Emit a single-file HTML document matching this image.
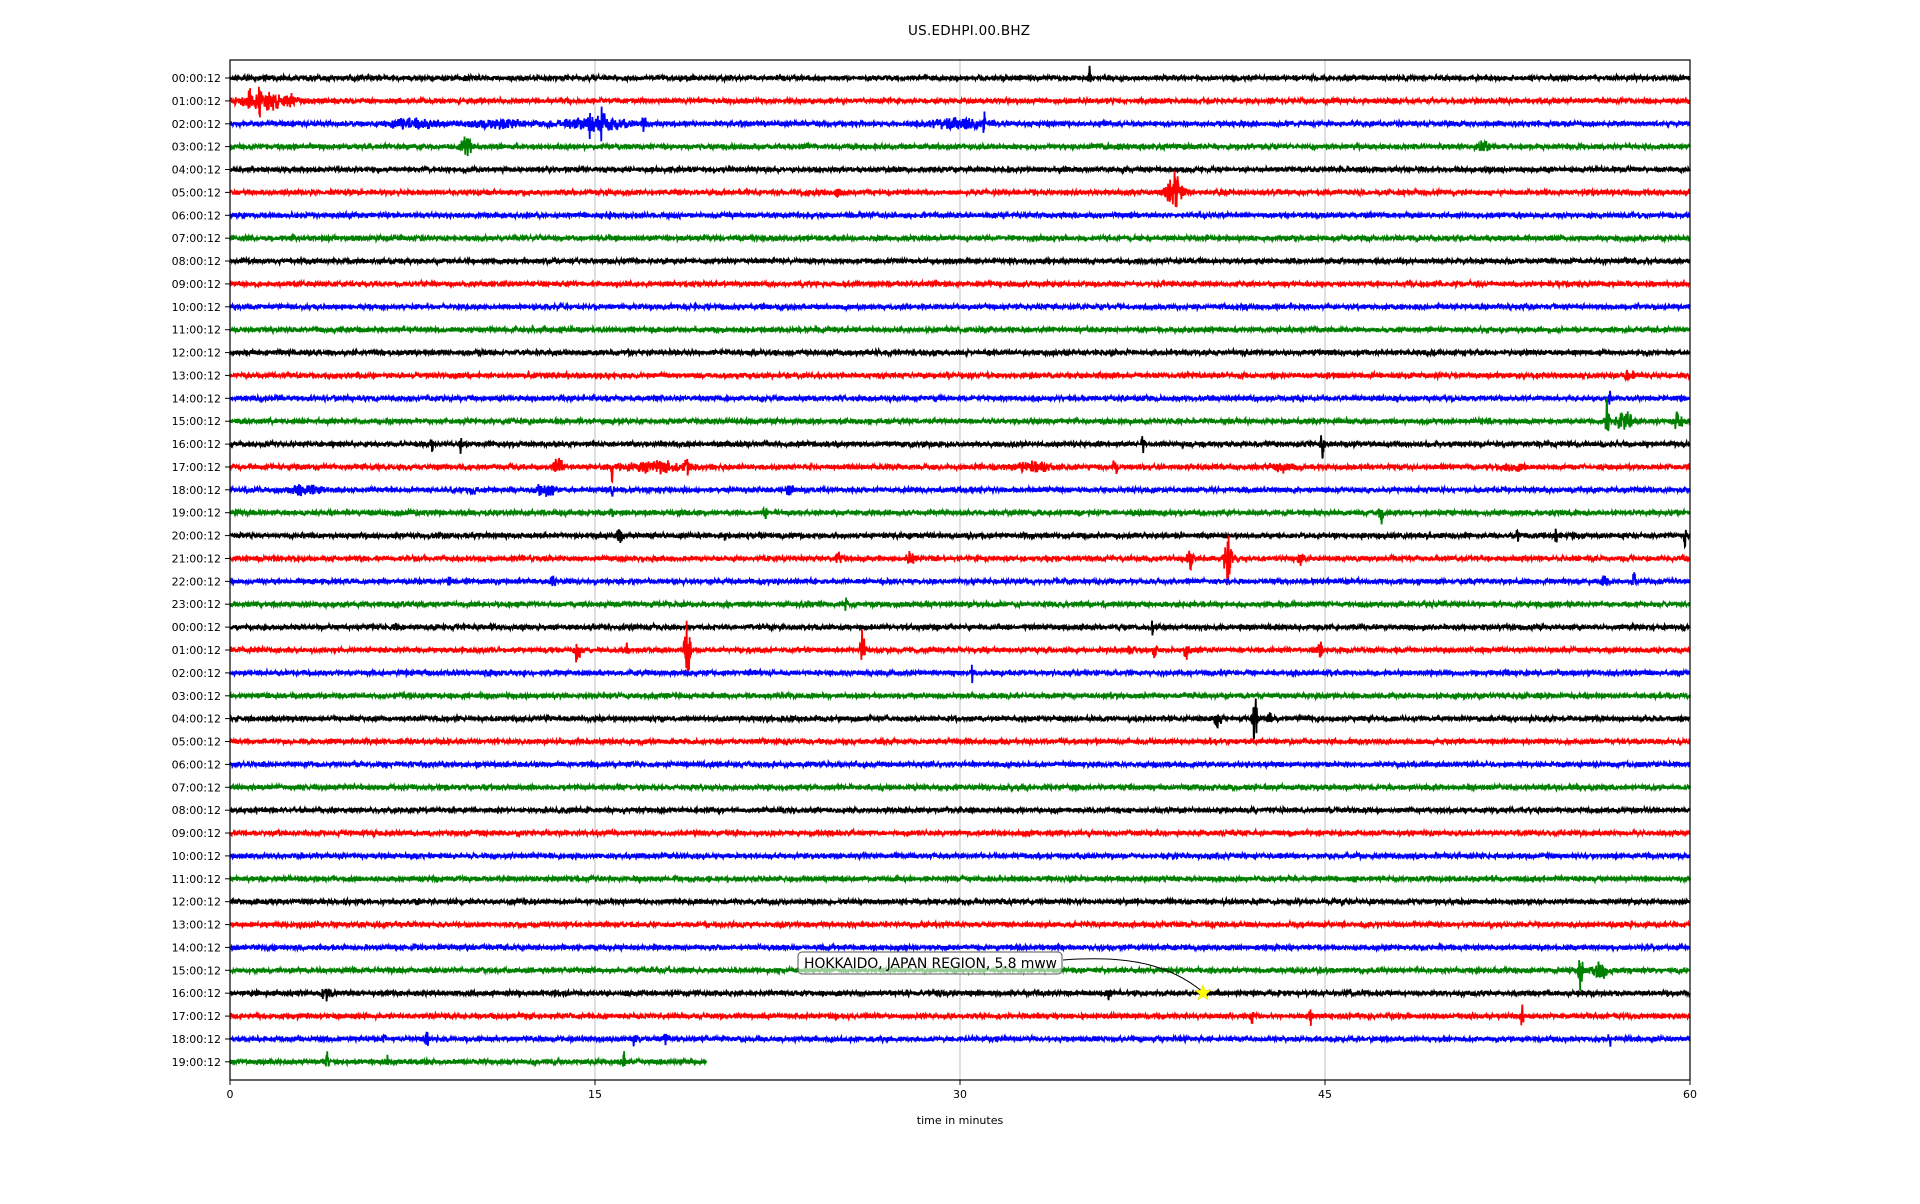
<!DOCTYPE html>
<html><head><meta charset="utf-8"><style>
body{margin:0;background:#fff;width:1920px;height:1200px;overflow:hidden;font-family:"DejaVu Sans","Liberation Sans",sans-serif}
</style></head><body>
<svg id="s" width="1920" height="1200" xmlns="http://www.w3.org/2000/svg" font-family="DejaVu Sans, Liberation Sans, sans-serif">
<rect width="1920" height="1200" fill="#fff"/>
<text x="969" y="35" font-size="13.5" text-anchor="middle" textLength="122">US.EDHPI.00.BHZ</text>
<g stroke="#b0b0b0" stroke-width="0.8">
<line x1="595" y1="60" x2="595" y2="1080"/><line x1="960" y1="60" x2="960" y2="1080"/><line x1="1325" y1="60" x2="1325" y2="1080"/>
</g>
<g id="tr"></g>
<rect x="230" y="60" width="1460" height="1020" fill="none" stroke="#000" stroke-width="1.2"/>
<g id="lab" font-size="11" text-anchor="end"></g>
<g font-size="11" text-anchor="middle">
<line x1="230" y1="1080" x2="230" y2="1085" stroke="#000"/><text x="230" y="1098">0</text>
<line x1="595" y1="1080" x2="595" y2="1085" stroke="#000"/><text x="595" y="1098">15</text>
<line x1="960" y1="1080" x2="960" y2="1085" stroke="#000"/><text x="960" y="1098">30</text>
<line x1="1325" y1="1080" x2="1325" y2="1085" stroke="#000"/><text x="1325" y="1098">45</text>
<line x1="1690" y1="1080" x2="1690" y2="1085" stroke="#000"/><text x="1690" y="1098">60</text>
<text x="960" y="1124">time in minutes</text>
</g>
<path d="M1063 960 C1130 955 1170 965 1203 992" fill="none" stroke="#000" stroke-width="1"/>
<rect x="798" y="952" width="264" height="22" rx="4" fill="#fff" fill-opacity="0.6" stroke="#555" stroke-width="1"/>
<text x="804" y="968" font-size="14" textLength="253">HOKKAIDO, JAPAN REGION, 5.8 mww</text>
<polygon id="star" fill="#ffff00" stroke="#e0e000" stroke-width="0.5"/>
</svg>
<script>
var cols=["#000000","#ff0000","#0000ff","#008000"];
var y0=78,dy=22.88,N=44;
var ev=[[0,35.3,10,.05],[1,1.5,5,1.1],[1,0.8,9,.04],[1,2.5,8,.06],[1,1.2,7,.06],[2,7.5,3,1],[2,11,2.5,1.2],[2,15,4,1.3],[2,15.3,12,.05],[2,14.8,7,.05],[2,17,6,.08],[2,30,3,1.2],[2,31,12,.04],[3,9.7,9,.2],[3,51.5,4,.2],[5,38.8,15,.3],[5,25,4,.1],
[13,57.5,4,.2],[14,56.7,8,.04],[15,56.6,22,.06],[15,57.3,6,.3],[15,59.5,5,.2],[16,8.3,8,.04],[16,9.5,7,.05],[16,37.5,7,.06],[16,44.9,10,.08],
[17,13.5,5,.2],[17,15.7,10,.04],[17,17.5,3,1.3],[17,18.8,6,.1],[17,33,2.5,.8],[17,36.4,10,.08],[17,43.2,3,.5],[17,52.8,3,.4],[18,3,3,.6],[18,10,4,.1],[18,13,4,.4],[18,15.7,5,.06],[18,23,4,.15],
[19,15.7,5,.06],[19,22,6,.1],[19,47.3,8,.08],[20,16,6,.1],[20,20.3,5,.06],[20,52.9,6,.05],[20,54.5,6,.05],[20,59.8,8,.06],
[21,39.5,10,.15],[21,41,28,.12],[21,28,6,.15],[21,25,4,.1],[21,44,5,.1],[22,57.7,16,.04],[22,56.5,6,.1],[22,9,5,.06],[22,13.3,5,.1],[23,25.3,5,.05],[23,6.8,3,.1],
[24,6.8,6,.04],[24,37.9,4,.05],[25,18.8,28,.12],[25,14.3,14,.1],[25,26,16,.08],[25,16.3,6,.06],[25,37,6,.08],[25,38,6,.08],[25,39.3,8,.08],[25,44.8,8,.1],[26,30.5,8,.04],
[28,42.1,16,.1],[28,40.6,6,.15],[28,42.7,6,.08],[39,55.5,20,.1],[39,56.3,6,.3],[40,4,5,.2],[40,29.2,5,.04],[40,36.1,8,.06],[40,46,4,.05],[41,42,5,.05],[41,44.4,5,.06],[41,53.1,8,.06],
[42,6.3,6,.06],[42,8.1,6,.06],[42,16.6,4,.06],[42,17.9,5,.08],[42,56.7,6,.05],[43,4,6,.08],[43,6.5,5,.06],[43,16.2,6,.06]];
var seed=7;function r(){seed=(seed*16807)%2147483647;return seed/2147483647;}
var tr="",lab="";
for(var i=0;i<N;i++){
 var y=y0+i*dy,h=i<24?i:i-24;
 var hh=(h<10?"0":"")+h;
 lab+='<line x1="225" y1="'+y.toFixed(1)+'" x2="230" y2="'+y.toFixed(1)+'" stroke="#000"/><text x="221" y="'+(y+4).toFixed(1)+'">'+hh+':00:12</text>';
 var end=i==43?230+19.6/60*1460:1690;
 var d=[];var my=ev.filter(function(e){return e[0]==i});
 for(var x=230;x<=end;x+=0.34){
  var t=(x-230)/1460*60;var a=1.7;
  for(var k=0;k<my.length;k++){var e=my[k],z=(t-e[1])/e[3];a+=e[2]*Math.exp(-z*z);}
  var v=(r()+r()-1)*1.6*a;
  d.push((d.length?"L":"M")+x.toFixed(2)+" "+(y+v).toFixed(1));
 }
 tr+='<path d="'+d.join("")+'" fill="none" stroke="'+cols[i%4]+'" stroke-width="1.8"/>';
}
document.getElementById("tr").innerHTML=tr;
document.getElementById("lab").innerHTML=lab;
var p=[],cx=1203,cy=993;for(var k=0;k<10;k++){var rr=k%2?3.5:8.5,an=-Math.PI/2+k*Math.PI/5;p.push((cx+rr*Math.cos(an)).toFixed(1)+","+(cy+rr*Math.sin(an)).toFixed(1));}
document.getElementById("star").setAttribute("points",p.join(" "));
</script>
</body></html>
